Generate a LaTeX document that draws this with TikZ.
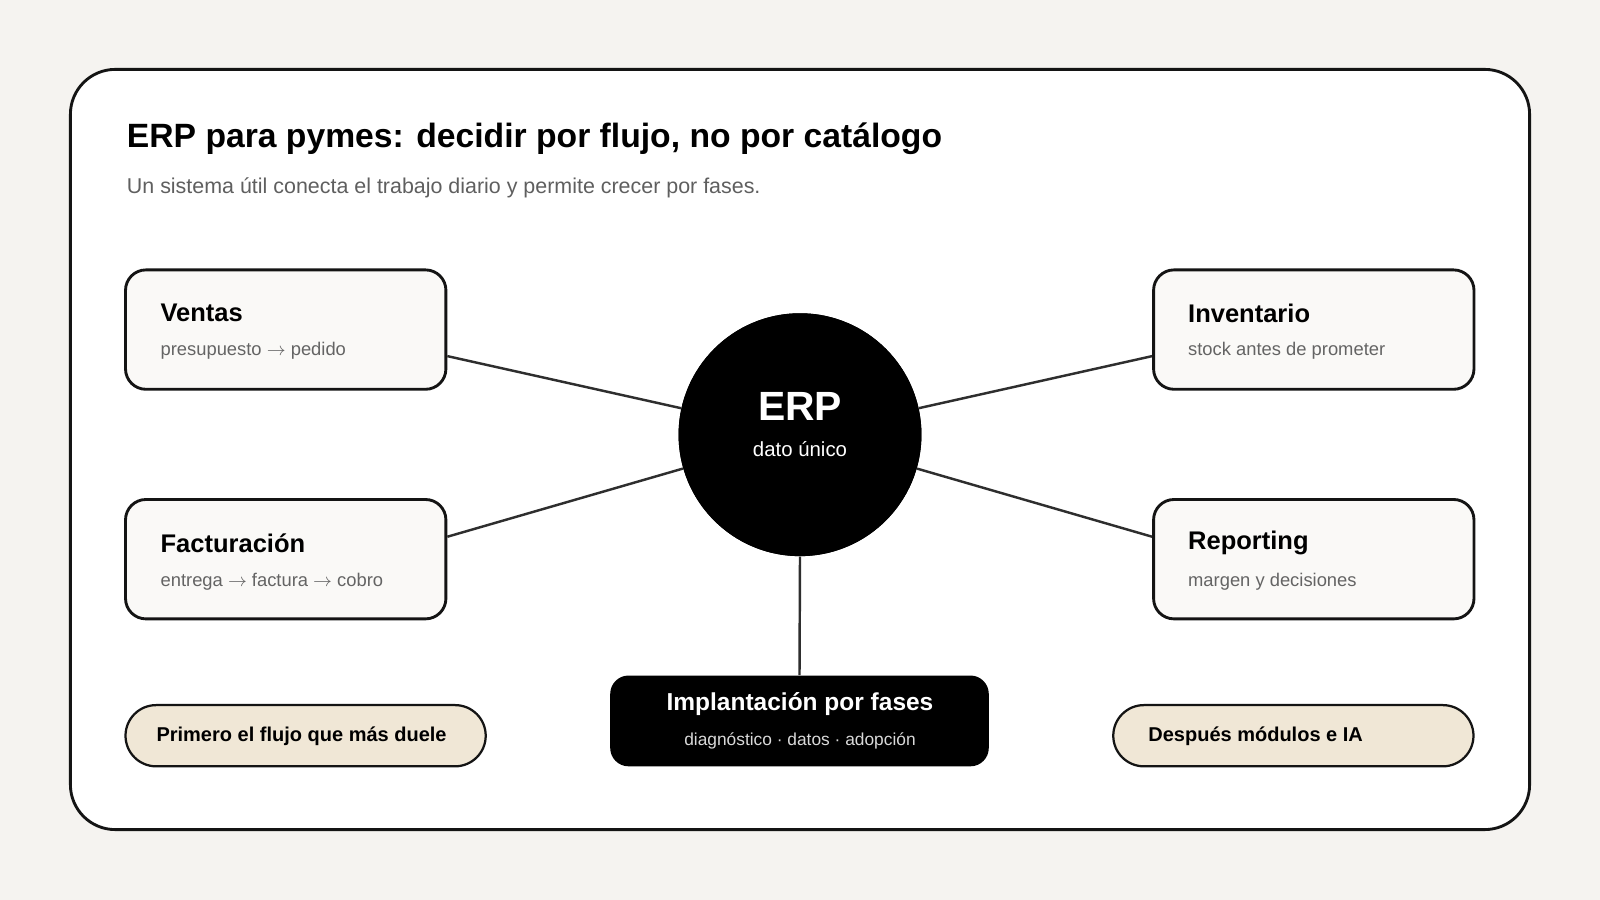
\documentclass[tikz,border=0pt]{standalone}
\usepackage{fontspec}
\setmainfont{Liberation Sans}
\definecolor{bgc}{RGB}{245,243,240}
\definecolor{boxc}{RGB}{250,249,247}
\definecolor{pillc}{RGB}{240,231,214}
\definecolor{grayt}{RGB}{100,100,100}
\definecolor{grays}{RGB}{95,95,95}
\begin{document}
\begin{tikzpicture}[x=0.5pt,y=-0.5pt,
  card/.style={draw=black!92,line width=1.4pt,fill=white,rounded corners=22pt},
  box/.style={draw=black!92,line width=1.4pt,fill=boxc,rounded corners=10pt,minimum width=157pt,minimum height=58.5pt,inner sep=0},
  pill/.style={draw=black!92,line width=1.1pt,fill=pillc,rounded corners=15pt,minimum width=176.5pt,minimum height=30pt,inner sep=0},
  btitle/.style={anchor=west,font=\bfseries\fontsize{12.5}{14}\selectfont,inner sep=0},
  bsub/.style={anchor=west,font=\fontsize{9}{11}\selectfont,text=grayt,inner sep=0},
  link/.style={draw=black!82,line width=1.2pt}]
\fill[bgc] (0,0) rectangle (1568,882);
\useasboundingbox (0,0) rectangle (1568,882);
\draw[card] (69,68) rectangle (1499,813);
\node[anchor=west,inner sep=0,font=\bfseries\fontsize{16.5}{19}\selectfont] (title) at (124,136) {ERP para pymes: decidir por flujo, no por catálogo};
\node[anchor=west,inner sep=0,font=\fontsize{10.5}{13}\selectfont,text=grays] (sub) at (124,184) {Un sistema útil conecta el trabajo diario y permite crecer por fases.};
\node[box] (ventas) at (280,323) {};
\node[box] (fact) at (280,548) {};
\node[box] (inv) at (1287.5,323) {};
\node[box] (rep) at (1287.5,548) {};
\node[circle,fill=black,minimum size=119pt,inner sep=0] (erp) at (784,426) {};
\node[fill=black,rounded corners=9pt,minimum width=185.5pt,minimum height=44.5pt,inner sep=0] (impl) at (783.5,706.5) {};
\draw[link] ([yshift=-13pt]ventas.east) -- (erp);
\draw[link] ([yshift=-13pt]inv.west) -- (erp);
\draw[link] ([yshift=11pt]fact.east) -- (erp);
\draw[link] ([yshift=11pt]rep.west) -- (erp);
\draw[link] (erp.south) -- (impl.north);
\node[circle,fill=black,minimum size=119pt,inner sep=0] at (784,426) {};
\node[btitle] (t1) at (157,307) {Ventas};
\node[bsub] (s1) at (157,344) {presupuesto $\rightarrow$ pedido};
\node[btitle] (t2) at (157,532) {Facturación};
\node[bsub] (s2) at (157,570) {entrega $\rightarrow$ factura $\rightarrow$ cobro};
\node[btitle] (t3) at (1164,307) {Inventario};
\node[bsub] (s3) at (1164,344) {stock antes de prometer};
\node[btitle] (t4) at (1164,532) {Reporting};
\node[bsub] (s4) at (1164,570) {margen y decisiones};
\node[text=white,font=\bfseries\fontsize{20}{24}\selectfont,inner sep=0] (erpt) at (784,398) {ERP};
\node[text=white,font=\fontsize{10}{12}\selectfont,inner sep=0] (erps) at (784,440) {dato único};
\node[text=white,font=\bfseries\fontsize{12}{14}\selectfont,inner sep=0] (implt) at (784,690) {Implantación por fases};
\node[text=white!85!black,font=\fontsize{8.5}{10}\selectfont,inner sep=0] (impls) at (784,726) {diagnóstico · datos · adopción};
\node[pill] (p1) at (299.5,721) {};
\node[anchor=west,inner sep=0,font=\bfseries\fontsize{9.8}{12}\selectfont] (p1t) at (153,722) {Primero el flujo que más duele};
\node[pill] (p2) at (1267.5,721) {};
\node[anchor=west,inner sep=0,font=\bfseries\fontsize{9.8}{12}\selectfont] (p2t) at (1125,722) {Después módulos e IA};
\end{tikzpicture}
\end{document}
